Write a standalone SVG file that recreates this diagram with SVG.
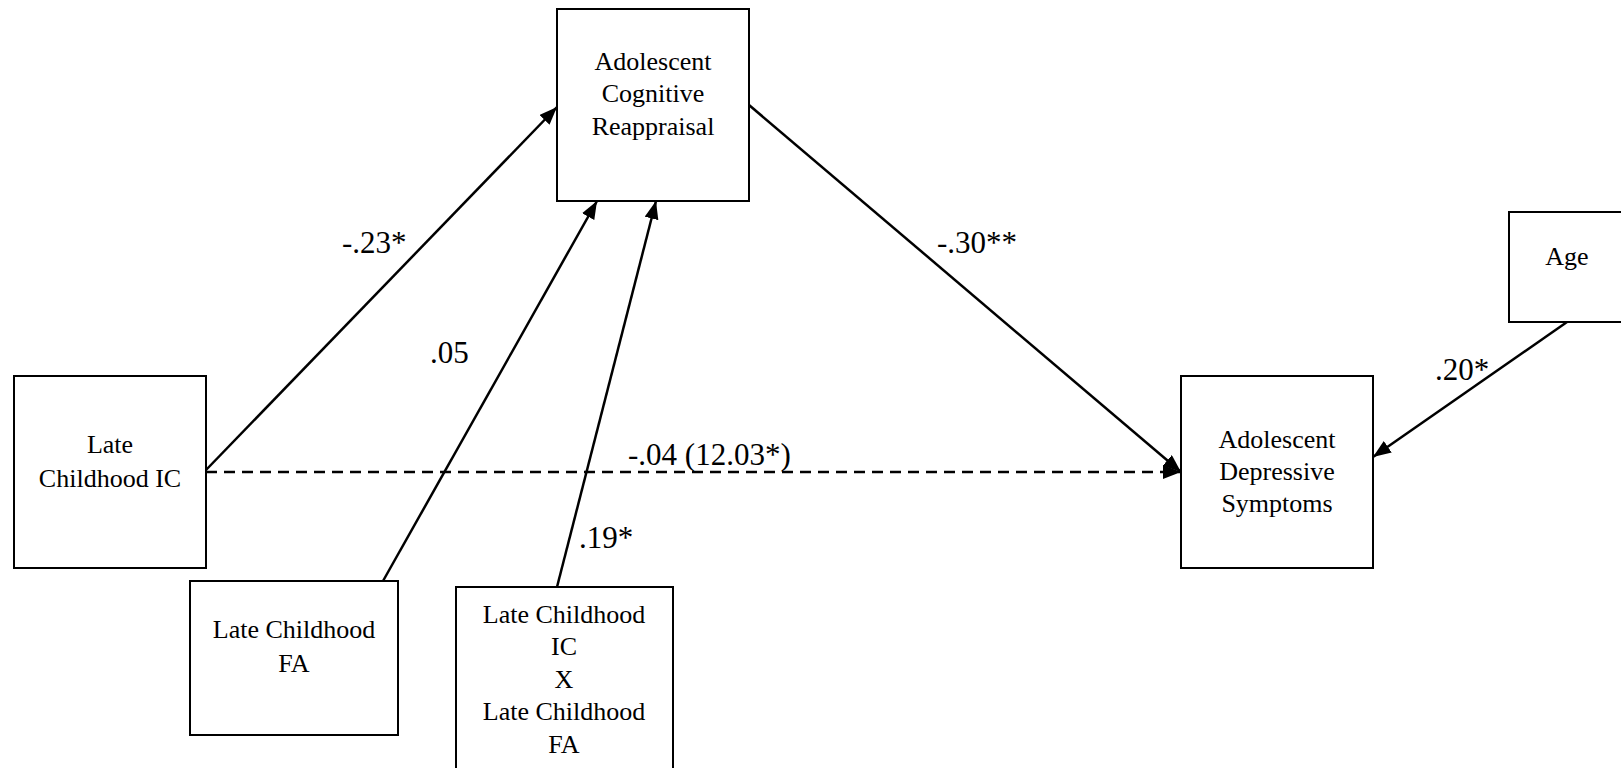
<svg xmlns="http://www.w3.org/2000/svg" width="1621" height="768" viewBox="0 0 1621 768">
<style>
.box{fill:#fff;stroke:#000;stroke-width:2}
.nt{font-family:"Liberation Serif","Times New Roman",serif;font-size:26px;fill:#000;text-anchor:middle}
.lb{font-family:"Liberation Serif","Times New Roman",serif;font-size:31px;fill:#000}
.edge{stroke:#000;stroke-width:2.5;fill:none}
.dash{stroke-dasharray:11 7}
</style>
<defs>
<marker id="arr" markerUnits="userSpaceOnUse" markerWidth="20" markerHeight="16" refX="18" refY="7" orient="auto">
<path d="M0,0 L18,7 L0,14 z" fill="#000"/>
</marker>
</defs>
<rect width="1621" height="768" fill="#fff"/>
<g id="connectors">
<line class="edge" x1="206" y1="470" x2="557" y2="107" marker-end="url(#arr)"/>
<line class="edge" x1="383" y1="581" x2="597" y2="201" marker-end="url(#arr)"/>
<line class="edge" x1="557" y1="587" x2="656" y2="201" marker-end="url(#arr)"/>
<line class="edge" x1="749" y1="105" x2="1181" y2="472" marker-end="url(#arr)"/>
<line class="edge dash" x1="206" y1="472" x2="1181" y2="472" marker-end="url(#arr)"/>
<line class="edge" x1="1567" y1="322" x2="1373" y2="457" marker-end="url(#arr)"/>
<text class="lb" x="342" y="253">-.23*</text>
<text class="lb" x="430" y="363">.05</text>
<text class="lb" x="937" y="253">-.30**</text>
<text class="lb" x="628" y="465">-.04 (12.03*)</text>
<text class="lb" x="579" y="548">.19*</text>
<text class="lb" x="1435" y="380">.20*</text>
</g>
<g id="cognitive-reappraisal">
<rect class="box" x="557" y="9" width="192" height="192"/>
<text class="nt" x="653" y="70">Adolescent</text>
<text class="nt" x="653" y="102">Cognitive</text>
<text class="nt" x="653" y="135">Reappraisal</text>
</g>
<g id="late-childhood-ic">
<rect class="box" x="14" y="376" width="192" height="192"/>
<text class="nt" x="110" y="453">Late</text>
<text class="nt" x="110" y="487">Childhood IC</text>
</g>
<g id="late-childhood-fa">
<rect class="box" x="190" y="581" width="208" height="154"/>
<text class="nt" x="294" y="638">Late Childhood</text>
<text class="nt" x="294" y="672">FA</text>
</g>
<g id="interaction">
<rect class="box" x="456" y="587" width="217" height="190"/>
<text class="nt" x="564" y="623">Late Childhood</text>
<text class="nt" x="564" y="655">IC</text>
<text class="nt" x="564" y="688">X</text>
<text class="nt" x="564" y="720">Late Childhood</text>
<text class="nt" x="564" y="753">FA</text>
</g>
<g id="age">
<rect class="box" x="1509" y="212" width="120" height="110"/>
<text class="nt" x="1567" y="265">Age</text>
</g>
<g id="depressive-symptoms">
<rect class="box" x="1181" y="376" width="192" height="192"/>
<text class="nt" x="1277" y="448">Adolescent</text>
<text class="nt" x="1277" y="480">Depressive</text>
<text class="nt" x="1277" y="512">Symptoms</text>
</g>
</svg>
